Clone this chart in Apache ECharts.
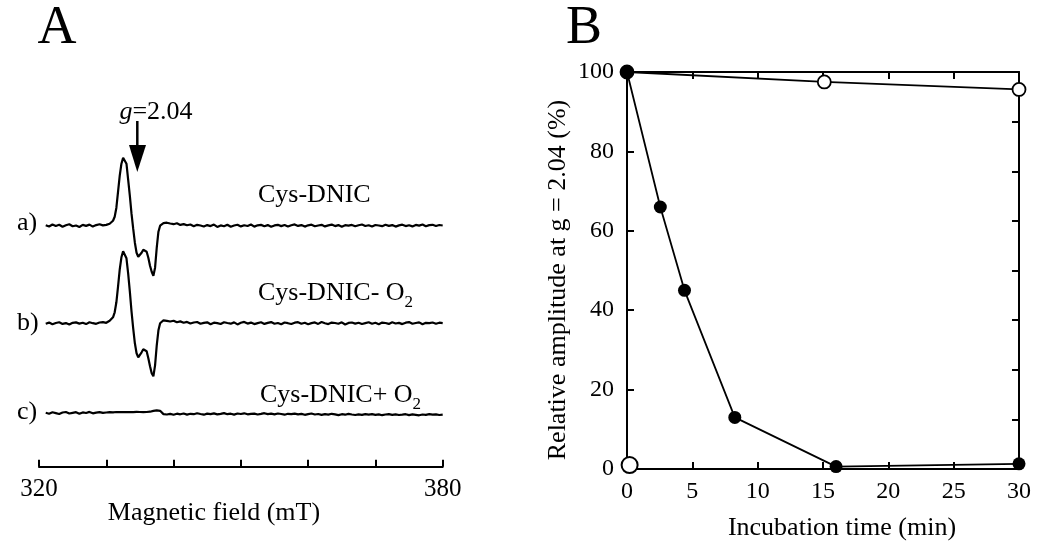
<!DOCTYPE html>
<html>
<head>
<meta charset="utf-8">
<script src="https://cdn.jsdelivr.net/npm/echarts@6/dist/echarts.min.js"></script>
<style>html,body{margin:0;padding:0;background:#fff;}#c{width:1050px;height:553px;}</style>
</head>
<body>
<div id="c"></div>
<script>
// ---------- Panel A: EPR spectra ----------
const fieldMT = [
 321,321.5,322,322.5,323,323.5,324,324.5,325,325.5,326,326.5,327,327.5,328,328.5,329,329.5,
 330,330.25,330.5,330.75,331,331.25,331.5,331.75,332,332.25,332.5,332.75,333,333.25,333.5,333.75,334,334.25,334.5,334.75,335,335.25,335.5,335.75,336,336.25,336.5,336.75,337,337.25,337.5,337.75,338,338.25,338.5,
 339,339.5,340,340.5,341,341.5,342,342.5,343,343.5,344,344.5,345,345.5,346,346.5,347,347.5,348,348.5,
 349,349.5,350,350.5,351,351.5,352,352.5,353,353.5,354,354.5,355,355.5,356,356.5,357,357.5,358,358.5,
 359,359.5,360,360.5,361,361.5,362,362.5,363,363.5,364,364.5,365,365.5,366,366.5,367,367.5,368,368.5,
 369,369.5,370,370.5,371,371.5,372,372.5,373,373.5,374,374.5,375,375.5,376,376.5,377,377.5,378,378.5,
 379,379.5,380
];
// a) Cys-DNIC
const specA = [
 0.5,-0.8,1.2,-0.3,0.9,-1.1,0.4,1.4,-0.6,0.2,-1.3,0.8,-0.2,1.1,-0.9,0.6,1.5,0.3,
 0.8,1.2,2.0,2.5,5,9,18,34,50,62,68,70,62,46,30,12,-3,-17,-27,-31,-31,-27,-24,-23,-26,-32,-40,-46,-50,-42,-22,-6,0,1.5,2.5,
 3.0,2.2,1.5,2.4,0.8,1.6,0.4,1.2,-0.5,0.9,
 0.2,-0.8,0.6,-0.4,1.1,-1.2,0.3,-0.6,0.9,-1.0,
 0.2,1.0,-0.7,0.5,-0.3,1.2,-0.9,0.4,0.8,-0.5,
 0.6,-1.1,0.3,0.9,-0.4,0.7,-0.8,0.5,1.3,-0.2,
 0.6,-0.9,0.4,1.0,-0.6,0.2,0.9,-0.7,0.3,1.1,
 -0.4,0.6,-1.0,0.5,0.1,0.8,-0.6,0.4,1.2,-0.3,
 0.5,-0.8,0.7,0.2,-0.5,0.9,-0.2,0.6,-0.9,0.3,
 1.0,-0.4,0.5,-0.7,0.8,0.1,1.2,-0.5,0.6,0.9,
 -0.3,0.7,0.2
];
// b) Cys-DNIC - O2
const specB = [
 -0.4,0.7,-1.0,0.3,1.1,-0.6,0.2,-1.2,0.5,0.9,-0.3,0.6,-0.8,1.0,0.1,-0.5,0.8,1.2,
 0.5,1.5,2.5,3,6,11,21,37,54,66,72,73,65,50,32,12,-5,-20,-30,-34,-33,-29,-26,-25,-28,-35,-43,-50,-53,-42,-22,-7,0,2,3,
 2.5,1.8,2.6,1.0,1.9,0.6,1.4,-0.2,0.8,1.3,
 -0.5,0.4,1.0,-0.9,0.6,0.2,-0.7,1.1,0.3,-0.4,
 0.9,-1.1,0.5,1.4,-0.3,0.7,-0.8,0.2,1.0,-0.6,
 0.4,1.2,-0.5,0.3,-1.0,0.8,0.1,-0.7,0.6,1.1,
 -0.4,0.5,-0.9,0.2,0.9,-0.6,1.3,0.0,-0.8,0.7,
 0.3,-0.5,1.0,-1.2,0.4,0.8,-0.3,0.6,-0.7,0.2,
 1.1,-0.4,0.5,-0.9,0.7,0.3,-0.6,1.0,-0.2,0.4,
 -0.8,0.6,1.2,-0.5,0.3,0.9,-1.0,0.5,0.1,0.8,
 -0.4,0.6,0.2
];
// c) Cys-DNIC + O2
const specC = [
 0.6,-0.4,1.0,0.2,-0.7,0.8,1.3,-0.2,0.5,1.1,-0.5,0.9,0.3,1.4,0.0,0.7,1.2,0.4,
 0.8,0.3,1.2,0.6,1.0,0.4,1.3,0.7,1.1,0.5,1.2,0.7,1.3,0.8,1.1,0.6,1.2,0.9,1.4,1.0,1.3,0.8,1.2,0.9,1.3,1.2,1.6,2.0,2.4,2.7,3.0,3.1,2.5,0.6,-0.8,
 -1.2,-0.6,-1.5,-0.4,-1.0,-0.2,-1.3,-0.5,-0.9,0.1,
 -0.7,-1.4,-0.3,-0.8,-0.1,-1.1,-0.6,0.2,-0.9,-0.4,
 -1.3,-0.2,-0.7,0.0,-1.0,-0.5,-0.3,-1.2,-0.6,0.1,
 -0.8,-0.4,-1.1,-0.2,-0.7,-1.4,-0.5,-0.9,-0.3,-1.0,
 -0.6,-1.5,-0.8,-0.2,-1.2,-0.7,-1.6,-0.9,-1.3,-0.5,
 -1.1,-1.8,-0.9,-1.4,-0.6,-1.2,-1.7,-1.0,-1.5,-0.8,
 -1.3,-0.9,-1.6,-1.1,-1.9,-1.2,-0.8,-1.5,-1.0,-1.7,
 -1.4,-0.9,-1.8,-1.1,-1.5,-2.0,-1.2,-1.6,-0.9,-1.4,
 -1.1,-1.7,-1.3
];
const fieldTickLabels = [320, 380];

// ---------- Panel B: time course ----------
const timeFilled = [0, 2.55, 4.4, 8.25, 16.0, 30];
const ampFilled  = [100, 66, 45, 13, 0.6, 1.3];
const timeOpen   = [0, 15.1, 30];
const ampOpen    = [100, 97.5, 95.6];
const timeControl = [0.2];
const ampControl  = [1.0];
const timeTicks = [0, 5, 10, 15, 20, 25, 30];
const ampTicks  = [0, 20, 40, 60, 80, 100];

const FONT = "'Liberation Serif','Times New Roman',serif";
const BLACK = '#000';

// trace baselines (vertical stacking of the spectra, in px units of panel A axis)
const stackOffset = {a: 241, b: 143.4, c: 53.4};
function trace(vals, off) { return fieldMT.map((f, i) => [f, vals[i] + off]); }

const chart = echarts.init(document.getElementById('c'), null, {renderer: 'canvas'});

const axisLineStyle = {color: BLACK, width: 2};
const tickStyle = {color: BLACK, width: 2};

const option = {
  animation: false,
  backgroundColor: '#fff',
  grid: [
    {left: 39, width: 403.7, top: 66.7, height: 400},
    {left: 627, width: 392, top: 72, height: 397}
  ],
  xAxis: [
    {
      gridIndex: 0, type: 'value', min: 320, max: 380, interval: 10,
      axisLine: {lineStyle: axisLineStyle},
      axisTick: {inside: true, length: 7, lineStyle: tickStyle},
      splitLine: {show: false},
      axisLabel: {
        showMinLabel: true, showMaxLabel: true, margin: 10,
        fontFamily: FONT, fontSize: 25, color: BLACK,
        formatter: v => fieldTickLabels.indexOf(v) >= 0 ? String(v) : ''
      }
    },
    {
      gridIndex: 1, type: 'value', position: 'bottom', min: 0, max: 30, interval: 5,
      axisLine: {onZero: false, lineStyle: axisLineStyle},
      axisTick: {inside: true, length: 7, lineStyle: tickStyle},
      splitLine: {show: false},
      axisLabel: {
        showMinLabel: true, showMaxLabel: true, margin: 11,
        fontFamily: FONT, fontSize: 24, color: BLACK,
        formatter: v => timeTicks.indexOf(v) >= 0 ? String(v) : ''
      }
    },
    {
      gridIndex: 1, type: 'value', position: 'top', min: 0, max: 30, interval: 5,
      axisLine: {onZero: false, lineStyle: axisLineStyle},
      axisTick: {inside: true, length: 7, lineStyle: tickStyle},
      splitLine: {show: false},
      axisLabel: {show: false}
    }
  ],
  yAxis: [
    {gridIndex: 0, type: 'value', min: 0, max: 400, show: false},
    {
      gridIndex: 1, type: 'value', position: 'left', min: 0, max: 100, interval: 20,
      axisLine: {show: true, onZero: false, lineStyle: axisLineStyle},
      axisTick: {show: true, inside: true, length: 7, lineStyle: tickStyle},
      splitLine: {show: false},
      axisLabel: {
        showMinLabel: true, showMaxLabel: true, margin: 13,
        fontFamily: FONT, fontSize: 24, color: BLACK,
        formatter: v => ampTicks.indexOf(v) >= 0 ? String(v) : ''
      }
    },
    {
      gridIndex: 1, type: 'value', position: 'right', min: 0, max: 8, interval: 1,
      axisLine: {show: true, onZero: false, lineStyle: axisLineStyle},
      axisTick: {show: true, inside: true, length: 7, lineStyle: tickStyle},
      splitLine: {show: false},
      axisLabel: {show: false}
    }
  ],
  series: [
    {type: 'line', xAxisIndex: 0, yAxisIndex: 0, data: trace(specA, stackOffset.a), showSymbol: false, symbol: 'none',
     lineStyle: {color: BLACK, width: 2.2}, silent: true},
    {type: 'line', xAxisIndex: 0, yAxisIndex: 0, data: trace(specB, stackOffset.b), showSymbol: false, symbol: 'none',
     lineStyle: {color: BLACK, width: 2.2}, silent: true},
    {type: 'line', xAxisIndex: 0, yAxisIndex: 0, data: trace(specC, stackOffset.c), showSymbol: false, symbol: 'none',
     lineStyle: {color: BLACK, width: 2.2}, silent: true},
    {type: 'line', xAxisIndex: 1, yAxisIndex: 1, data: timeOpen.map((t, i) => [t, ampOpen[i]]),
     symbol: 'circle', symbolSize: 13, clip: false,
     itemStyle: {color: '#fff', borderColor: BLACK, borderWidth: 1.8, opacity: 1},
     lineStyle: {color: BLACK, width: 1.8}, z: 3},
    {type: 'line', xAxisIndex: 1, yAxisIndex: 1, data: timeFilled.map((t, i) => [t, ampFilled[i]]),
     symbol: 'circle', symbolSize: 13, clip: false,
     itemStyle: {color: BLACK, borderColor: BLACK, borderWidth: 0, opacity: 1},
     lineStyle: {color: BLACK, width: 1.8}, z: 4},
    {type: 'scatter', xAxisIndex: 1, yAxisIndex: 1, data: timeControl.map((t, i) => [t, ampControl[i]]),
     symbol: 'circle', symbolSize: 16, clip: false,
     itemStyle: {color: '#fff', borderColor: BLACK, borderWidth: 2, opacity: 1}, z: 5}
  ],
  graphic: [
    {type: 'text', x: 57, y: 29, style: {text: 'A', font: '54px ' + FONT, fill: BLACK, align: 'center', verticalAlign: 'middle', textAlign: 'center', textVerticalAlign: 'middle'}},
    {type: 'text', x: 584, y: 29, style: {text: 'B', font: '54px ' + FONT, fill: BLACK, align: 'center', verticalAlign: 'middle', textAlign: 'center', textVerticalAlign: 'middle'}},
    {type: 'text', x: 156, y: 112, style: {
      text: '{i|g}{n|=2.04}', align: 'center', verticalAlign: 'middle', textAlign: 'center', textVerticalAlign: 'middle',
      rich: {i: {fontFamily: FONT, fontSize: 26, fontStyle: 'italic', fill: BLACK, color: BLACK},
             n: {fontFamily: FONT, fontSize: 26, fill: BLACK, color: BLACK}}}},
    {type: 'line', shape: {x1: 137.3, y1: 121, x2: 137.3, y2: 147}, style: {stroke: BLACK, lineWidth: 2.5}},
    {type: 'polygon', shape: {points: [[129, 145], [146, 145], [137.3, 172]]}, style: {fill: BLACK}},
    {type: 'text', x: 17, y: 223, style: {text: 'a)', font: '26px ' + FONT, fill: BLACK, align: 'left', verticalAlign: 'middle', textAlign: 'left', textVerticalAlign: 'middle'}},
    {type: 'text', x: 17, y: 323, style: {text: 'b)', font: '26px ' + FONT, fill: BLACK, align: 'left', verticalAlign: 'middle', textAlign: 'left', textVerticalAlign: 'middle'}},
    {type: 'text', x: 17, y: 412, style: {text: 'c)', font: '26px ' + FONT, fill: BLACK, align: 'left', verticalAlign: 'middle', textAlign: 'left', textVerticalAlign: 'middle'}},
    {type: 'text', x: 258, y: 195, style: {text: 'Cys-DNIC', font: '26px ' + FONT, fill: BLACK, align: 'left', verticalAlign: 'middle', textAlign: 'left', textVerticalAlign: 'middle'}},
    {type: 'text', x: 258, y: 293, style: {
      text: '{n|Cys-DNIC- O}{s|2}', align: 'left', verticalAlign: 'middle', textAlign: 'left', textVerticalAlign: 'middle',
      rich: {n: {fontFamily: FONT, fontSize: 26, lineHeight: 36, fill: BLACK, color: BLACK},
             s: {fontFamily: FONT, fontSize: 17, lineHeight: 17, verticalAlign: 'bottom', fill: BLACK, color: BLACK}}}},
    {type: 'text', x: 260, y: 395, style: {
      text: '{n|Cys-DNIC+ O}{s|2}', align: 'left', verticalAlign: 'middle', textAlign: 'left', textVerticalAlign: 'middle',
      rich: {n: {fontFamily: FONT, fontSize: 26, lineHeight: 36, fill: BLACK, color: BLACK},
             s: {fontFamily: FONT, fontSize: 17, lineHeight: 17, verticalAlign: 'bottom', fill: BLACK, color: BLACK}}}},
    {type: 'text', x: 214, y: 513, style: {text: 'Magnetic field (mT)', font: '26px ' + FONT, fill: BLACK, align: 'center', verticalAlign: 'middle', textAlign: 'center', textVerticalAlign: 'middle'}},
    {type: 'text', x: 842, y: 528, style: {text: 'Incubation time (min)', font: '26px ' + FONT, fill: BLACK, align: 'center', verticalAlign: 'middle', textAlign: 'center', textVerticalAlign: 'middle'}},
    {type: 'text', x: 558, y: 280, rotation: Math.PI / 2, style: {text: 'Relative amplitude at g = 2.04 (%)', font: '26px ' + FONT, fill: BLACK, align: 'center', verticalAlign: 'middle', textAlign: 'center', textVerticalAlign: 'middle'}}
  ]
};
chart.setOption(option);
</script>
</body>
</html>
